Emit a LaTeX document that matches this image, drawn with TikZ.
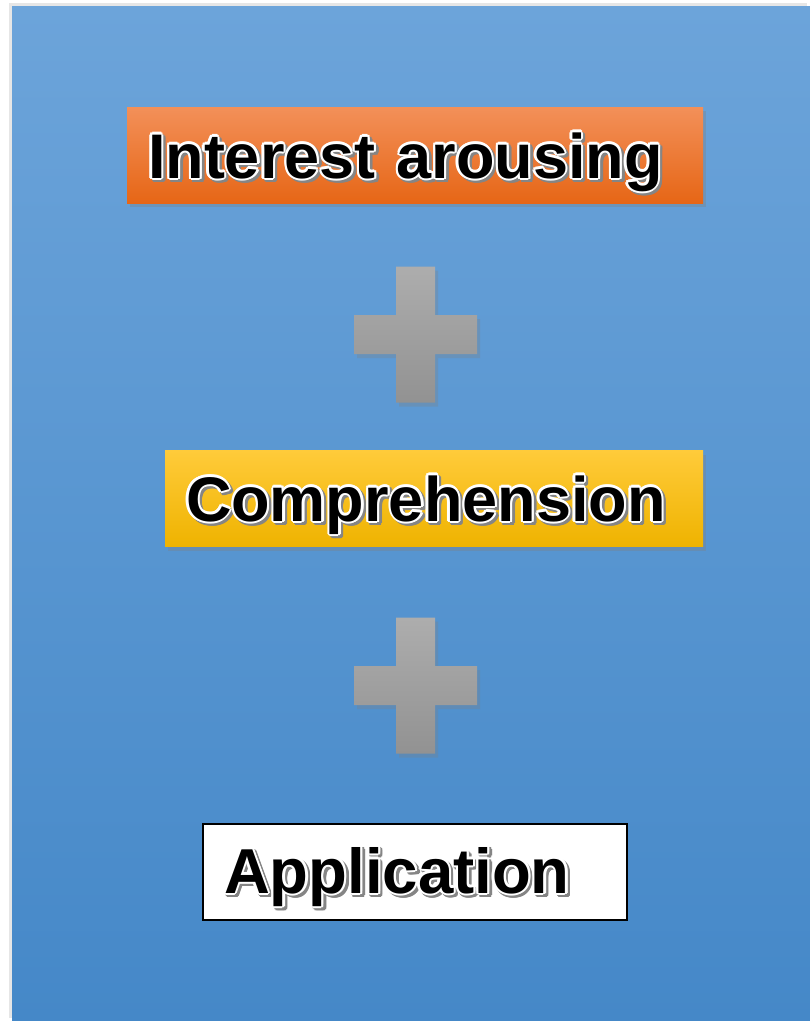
\documentclass[tikz,border=0pt]{standalone}
\usepackage{fontspec}
\setmainfont{Liberation Sans}
\usetikzlibrary{shadows}
\definecolor{bgtop}{HTML}{6CA4DA}
\definecolor{bgbottom}{HTML}{4588C8}
\definecolor{orangetop}{HTML}{F39059}
\definecolor{orangebottom}{HTML}{E66616}
\definecolor{yellowtop}{HTML}{FFCB3A}
\definecolor{yellowbottom}{HTML}{EFB300}
\definecolor{plustop}{HTML}{ADADAD}
\definecolor{plusbottom}{HTML}{929292}
\definecolor{textshadow}{HTML}{858585}
\newcommand{\glowtext}[1]{%
  \leavevmode
  \foreach \a in {0,30,...,330}{%
    \pgfmathsetlengthmacro\dx{2.5pt+2.2pt*cos(\a)}%
    \pgfmathsetlengthmacro\dy{-2.5pt+2.2pt*sin(\a)}%
    \rlap{\hspace*{\dx}\raisebox{\dy}{\color{textshadow}#1}}}%
  \foreach \a in {0,30,...,330}{%
    \pgfmathsetlengthmacro\dx{2.2pt*cos(\a)}%
    \pgfmathsetlengthmacro\dy{2.2pt*sin(\a)}%
    \rlap{\hspace*{\dx}\raisebox{\dy}{\color{white}#1}}}%
  #1}
\newcommand{\plussign}[1]{%
  \path[plus] (#1) ++(-19.5,-68) -- ++(39,0) -- ++(0,48.5) -- ++(42,0)
    -- ++(0,39) -- ++(-42,0) -- ++(0,48.5) -- ++(-39,0) -- ++(0,-48.5)
    -- ++(-42,0) -- ++(0,-39) -- ++(42,0) -- cycle}

\begin{document}
\begin{tikzpicture}[x=1pt, y=-1pt,
    box/.style={inner xsep=21pt, inner ysep=0pt, align=left,
      font=\fontsize{63}{70}\selectfont\bfseries, minimum height=96pt,
      text height=46pt, text depth=0pt},
    shadowed/.style={drop shadow={shadow xshift=3pt, shadow yshift=-4pt,
      opacity=0.35}},
    plus/.style={top color=plustop, bottom color=plusbottom,
      drop shadow={shadow xshift=3pt, shadow yshift=-4pt, opacity=0.3}}]
  \useasboundingbox (0,0) rectangle (810,1021);
  \shade[top color=bgtop, bottom color=bgbottom,
    drop shadow={shadow xshift=-3pt, shadow yshift=3pt, opacity=0.2}]
    (12,6) rectangle (810,1021);

  \node[box, shadowed, top color=orangetop, bottom color=orangebottom,
    text width=534pt] (interest) at (415,155) {\glowtext{Interest arousing}};

  \coordinate (plusA) at (415.5,334.5);
  \plussign{plusA};

  \node[box, shadowed, top color=yellowtop, bottom color=yellowbottom,
    text width=496pt, text height=45pt]
    (comprehension) at (434,498.5) {\glowtext{Comprehension}};

  \coordinate (plusB) at (415.5,685.5);
  \plussign{plusB};

  \node[box, fill=white, draw=black, line width=1.5pt, text height=42pt,
    font=\fontsize{63.5}{70}\selectfont\bfseries,
    text width=382pt] (application) at (415,872) {\glowtext{Application}};
\end{tikzpicture}
\end{document}
